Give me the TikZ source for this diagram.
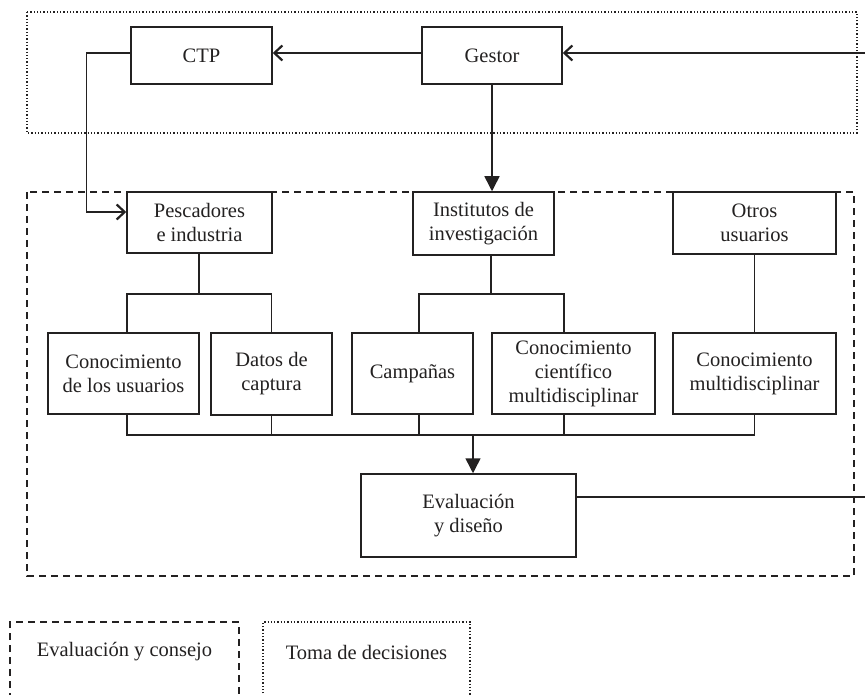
\documentclass[tikz,border=0pt]{standalone}
\usepackage{fontspec}
\setmainfont{Liberation Serif}
\usetikzlibrary{arrows.meta}
\definecolor{ink}{RGB}{35,33,33}
\tikzset{
  box/.style={draw=ink, line width=1.5pt, fill=white, align=center, inner sep=0pt,
    text=ink, font=\fontsize{20.5}{24}\selectfont},
  conn/.style={draw=ink, line width=1.5pt},
  barb/.style={conn, -{Straight Barb[length=8pt,width=15pt,line width=2.2pt]}},
  tri/.style={conn, -{Triangle[length=15pt,width=15pt]}},
  dotbox/.style={draw=ink, line width=1.4pt, dash pattern=on 1.3pt off 2pt},
  dashbox/.style={draw=ink, line width=1.5pt, dash pattern=on 7pt off 5pt},
  lbl/.style={text=ink, font=\fontsize{20.5}{24}\selectfont, inner sep=0pt}
}
\begin{document}
\begin{tikzpicture}[x=1pt,y=-1pt]
\useasboundingbox (0,0) rectangle (865,695);
\clip (0,0) rectangle (865,695);
% regions
\draw[dotbox] (27,12) rectangle (857,133);
\draw[dashbox] (27,192) rectangle (854,576);
% top row
\node[box, minimum width=141pt, minimum height=57pt] (ctp) at (201.5,55.5) {CTP};
\node[box, minimum width=140pt, minimum height=57pt] (gest) at (492,55.5) {Gestor};
% second row
\node[box, minimum width=145pt, minimum height=61pt] (pesc) at (199.5,222.5) {Pescadores\\e industria};
\node[box, minimum width=141pt, minimum height=63pt] (inst) at (483.5,223.5) {Institutos de\\investigación};
\node[box, minimum width=163pt, minimum height=62pt] (otros) at (754.5,223) {Otros\\usuarios};
% third row
\node[box, minimum width=151pt, minimum height=81pt] (cu) at (123.5,373.5) {Conocimiento\\de los usuarios};
\node[box, minimum width=121pt, minimum height=82pt] (dc) at (271.5,374) {Datos de\\captura};
\node[box, minimum width=121pt, minimum height=81pt] (ca) at (412.5,373.5) {Campañas};
\node[box, minimum width=163pt, minimum height=81pt] (cc) at (573.5,373.5) {Conocimiento\\científico\\multidisciplinar};
\node[box, minimum width=163pt, minimum height=81pt] (cm) at (754.5,373.5) {Conocimiento\\multidisciplinar};
% evaluation
\node[box, minimum width=215pt, minimum height=83pt] (ev) at (468.5,515.5) {Evaluación\\y diseño};
% coordinates
\coordinate (rin) at (865,53);
\coordinate (rout) at (865,497);
\coordinate (b1) at (199,294);
\coordinate (b2) at (491,294);
\coordinate (j) at (473,435);
% connectors
\draw[barb] (rin) -- (rin -| gest.east);
\draw[barb] ([yshift=2.5pt]gest.west) -- ([yshift=2.5pt]ctp.east);
\draw[barb] ([yshift=2.5pt]ctp.west) -- ++(-44,0) |- ([yshift=10.5pt]pesc.west);
\draw[tri] (gest.south) -- (gest.south |- inst.north);
% branches
\draw[conn] (pesc.south -| b1) -- (b1);
\draw[conn] ([xshift=3.5pt]cu.north) |- (b1) -| (dc.north);
\draw[conn] (inst.south -| b2) -- (b2);
\draw[conn] ([xshift=6.5pt]ca.north) |- (b2) -| ([xshift=-9.5pt]cc.north);
\draw[conn] (otros.south) -- (cm.north);
% collector
\draw[conn] ([xshift=3.5pt]cu.south) |- (j);
\draw[conn] (cm.south) |- (j);
\draw[conn] (dc.south) -- (dc.south |- j);
\draw[conn] ([xshift=6.5pt]ca.south) -- ([xshift=6.5pt]ca.south |- j);
\draw[conn] ([xshift=-9.5pt]cc.south) -- ([xshift=-9.5pt]cc.south |- j);
\draw[tri] (j) -- (j |- ev.north);
\draw[conn] ([yshift=18.5pt]ev.east) -- (rout);
% legend
\draw[dashbox] (10,700) -- (10,622) -- (239,622) -- (239,700);
\draw[dotbox] (263,700) -- (263,622) -- (470,622) -- (470,700);
\node[lbl] (leg1) at (124.5,652) {Evaluación y consejo};
\node[lbl] (leg2) at (366.5,652) {Toma de decisiones};
\end{tikzpicture}
\end{document}
